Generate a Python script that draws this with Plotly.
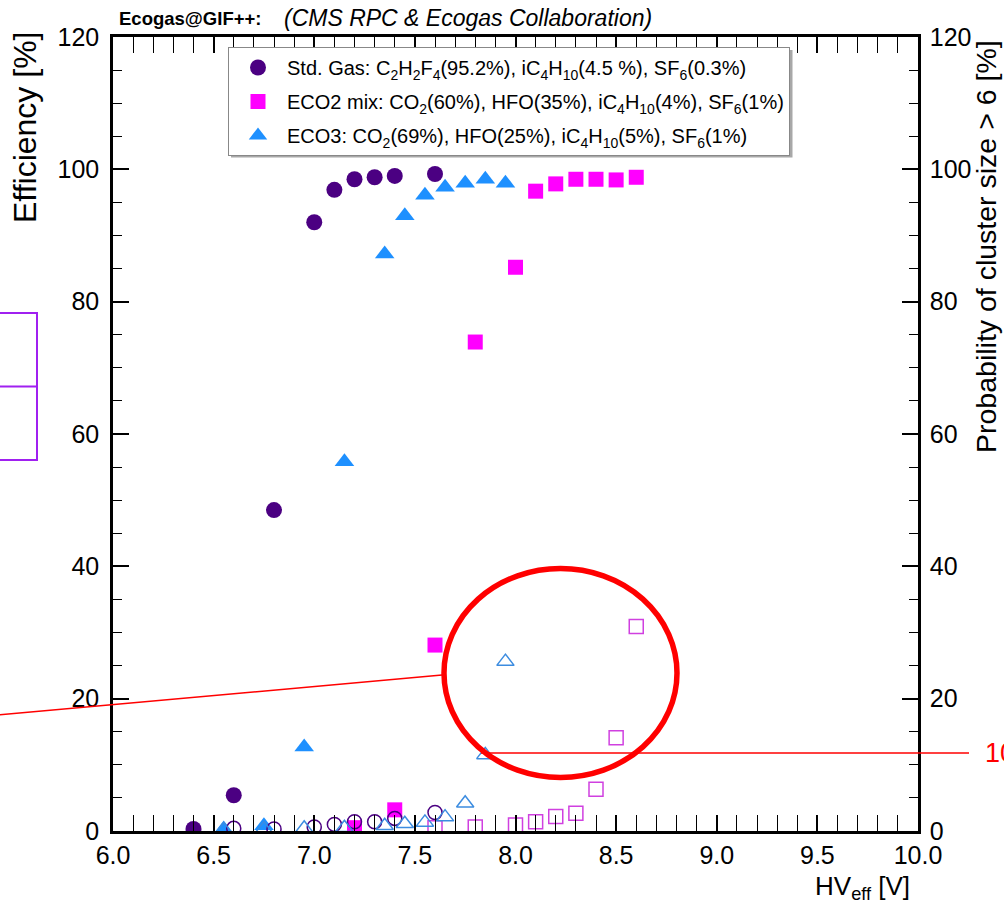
import plotly.graph_objects as go

# ---------------- data ----------------
std_hv = [6.4, 6.6, 6.8, 7.0, 7.1, 7.2, 7.3, 7.4, 7.6]
std_eff = [0.3, 5.4, 48.5, 92.0, 96.9, 98.5, 98.8, 99.0, 99.3]
std_cs_hv = [6.6, 6.8, 7.0, 7.1, 7.2, 7.3, 7.4, 7.6]
std_cs = [0.4, 0.3, 0.6, 1.0, 1.4, 1.4, 1.9, 2.8]

eco2_hv = [7.2, 7.4, 7.6, 7.8, 8.0, 8.1, 8.2, 8.3, 8.4, 8.5, 8.6]
eco2_eff = [0.5, 3.2, 28.1, 73.9, 85.2, 96.7, 97.8, 98.5, 98.5, 98.4, 98.8]
eco2_cs_hv = [7.6, 7.8, 8.0, 8.1, 8.2, 8.3, 8.4, 8.5, 8.6]
eco2_cs = [0.5, 0.6, 0.9, 1.4, 2.2, 2.7, 6.3, 14.1, 30.9]

eco3_hv = [6.55, 6.75, 6.95, 7.15, 7.35, 7.45, 7.55, 7.65, 7.75, 7.85, 7.95]
eco3_eff = [0.3, 0.8, 12.7, 55.8, 87.2, 93.0, 96.1, 97.3, 97.9, 98.5, 97.9]
eco3_cs_hv = [6.55, 6.75, 6.95, 7.15, 7.35, 7.45, 7.55, 7.65, 7.75, 7.85, 7.95]
eco3_cs = [0.2, 0.3, 0.4, 0.5, 0.8, 1.1, 1.3, 2.1, 4.2, 11.5, 25.6]

legend_names = [
    "Std. Gas: C<sub>2</sub>H<sub>2</sub>F<sub>4</sub>(95.2%), iC<sub>4</sub>H<sub>10</sub>(4.5 %), SF<sub>6</sub>(0.3%)",
    "ECO2 mix: CO<sub>2</sub>(60%), HFO(35%), iC<sub>4</sub>H<sub>10</sub>(4%), SF<sub>6</sub>(1%)",
    "ECO3: CO<sub>2</sub>(69%), HFO(25%), iC<sub>4</sub>H<sub>10</sub>(5%), SF<sub>6</sub>(1%)",
]

C_STD = "#4B0082"
C_ECO2 = "#FF00FF"
C_ECO3 = "#1E90FF"
FONT = "Liberation Sans, Arial, Helvetica, sans-serif"

W_FIG, H_FIG = 1004, 903
L, R, T, B = 113, 918, 37, 831


def pxx(x):
    return (x - L) / (R - L)


def pxy(y):
    return (B - y) / (B - T)


fig = go.Figure()

# filled markers: efficiency
fig.add_trace(go.Scatter(x=std_hv, y=std_eff, mode="markers", name=legend_names[0],
                         legendgroup="a",
                         marker=dict(symbol="circle", size=16, color=C_STD)))
fig.add_trace(go.Scatter(x=eco2_hv, y=eco2_eff, mode="markers", name=legend_names[1],
                         legendgroup="b",
                         marker=dict(symbol="square", size=15, color=C_ECO2)))
fig.add_trace(go.Scatter(x=eco3_hv, y=eco3_eff, mode="markers", name=legend_names[2],
                         legendgroup="c",
                         marker=dict(symbol="triangle-up", size=17, color=C_ECO3)))

# open markers: cluster size probability (right axis)
fig.add_trace(go.Scatter(x=std_cs_hv, y=std_cs, mode="markers", yaxis="y2", showlegend=False,
                         marker=dict(symbol="circle-open", size=14, color=C_STD,
                                     line=dict(width=1.5, color=C_STD))))
fig.add_trace(go.Scatter(x=eco2_cs_hv, y=eco2_cs, mode="markers", yaxis="y2", showlegend=False,
                         marker=dict(symbol="square-open", size=14, color="#D040E0",
                                     line=dict(width=1.5, color="#D040E0"))))
fig.add_trace(go.Scatter(x=eco3_cs_hv, y=eco3_cs, mode="markers", yaxis="y2", showlegend=False,
                         marker=dict(symbol="triangle-up-open", size=15, color="#3C8CE0",
                                     line=dict(width=1.5, color="#3C8CE0"))))

tickfont = dict(family=FONT, size=25, color="black")
minor_x = dict(tick0=6, dtick=0.1, ticks="inside", ticklen=9, tickwidth=1.2,
               tickcolor="black", showgrid=False)
minor_y = dict(tick0=0, dtick=5, ticks="inside", ticklen=9, tickwidth=1.2,
               tickcolor="black", showgrid=False)

fig.update_layout(
    width=W_FIG, height=H_FIG,
    margin=dict(l=L, r=W_FIG - R, t=T, b=H_FIG - B, pad=0),
    paper_bgcolor="white", plot_bgcolor="white",
    font=dict(family=FONT, color="black"),
    showlegend=True,
    legend=dict(x=pxx(228), y=pxy(47), xanchor="left", yanchor="top",
                bgcolor="white", bordercolor="#888888", borderwidth=1,
                font=dict(family=FONT, size=20, color="black"),
                tracegroupgap=5, itemwidth=48),
    xaxis=dict(range=[6, 10], tick0=6, dtick=0.5, tickformat=".1f",
               ticks="inside", ticklen=16, tickwidth=1.5, tickcolor="black",
               showline=True, linewidth=2.5, linecolor="black", mirror="allticks",
               showgrid=False, zeroline=False, tickfont=tickfont, minor=minor_x),
    yaxis=dict(range=[0, 120], tick0=0, dtick=20,
               ticks="inside", ticklen=16, tickwidth=1.5, tickcolor="black",
               showline=True, linewidth=2.5, linecolor="black", mirror=True,
               showgrid=False, zeroline=False, tickfont=tickfont, ticklabelstandoff=6,
               minor=minor_y),
    yaxis2=dict(range=[0, 120], tick0=0, dtick=20, overlaying="y", side="right",
                ticks="inside", ticklen=16, tickwidth=1.5, tickcolor="black",
                showline=True, linewidth=2.5, linecolor="black",
                showgrid=False, zeroline=False, tickfont=tickfont, ticklabelstandoff=4,
                minor=minor_y),
)

annotations = [
    dict(text="Efficiency [%]", x=pxx(25), y=pxy(128), xref="paper", yref="paper",
         textangle=-90, showarrow=False, xanchor="center", yanchor="middle",
         font=dict(family=FONT, size=32, color="black")),
    dict(text="Probability of cluster size > 6 [%]", x=pxx(986), y=pxy(246),
         xref="paper", yref="paper", textangle=-90, showarrow=False,
         xanchor="center", yanchor="middle", font=dict(family=FONT, size=28.5, color="black")),
    dict(text="HV<sub>eff</sub> [V]", x=pxx(912), y=pxy(887), xref="paper", yref="paper",
         showarrow=False, xanchor="right", yanchor="middle",
         font=dict(family=FONT, size=26, color="black")),
    dict(text="<b>Ecogas@GIF++:</b>", x=pxx(117), y=pxy(18), xref="paper", yref="paper",
         showarrow=False, xanchor="left", yanchor="middle",
         font=dict(family=FONT, size=18.5, color="black")),
    dict(text="<i>(CMS RPC & Ecogas Collaboration)</i>", x=pxx(282), y=pxy(18),
         xref="paper", yref="paper", showarrow=False, xanchor="left", yanchor="middle",
         font=dict(family=FONT, size=23, color="black")),
    dict(text="10%", x=pxx(983), y=pxy(753), xref="paper", yref="paper",
         showarrow=False, xanchor="left", yanchor="middle",
         font=dict(family=FONT, size=27, color="red")),
]
fig.update_layout(annotations=annotations)

shapes = [
    # legend drop shadow
    dict(type="rect", xref="paper", yref="paper",
         x0=pxx(231), x1=pxx(792.5), y0=pxy(157.5), y1=pxy(50),
         fillcolor="#a8a8a8", line=dict(width=0), layer="above"),
    # red ellipse highlighting the region
    dict(type="circle", xref="paper", yref="paper",
         x0=pxx(444), x1=pxx(677), y0=pxy(777.5), y1=pxy(568.5),
         line=dict(color="red", width=5.5), layer="above"),
    dict(type="line", xref="paper", yref="paper",
         x0=pxx(-2), y0=pxy(715), x1=pxx(442), y1=pxy(675),
         line=dict(color="red", width=1.5), layer="above"),
    dict(type="line", xref="paper", yref="paper",
         x0=pxx(481), y0=pxy(753), x1=pxx(969), y1=pxy(753),
         line=dict(color="red", width=1.5), layer="above"),
    # purple boxes at the left edge
    dict(type="rect", xref="paper", yref="paper",
         x0=pxx(-10), x1=pxx(37), y0=pxy(460), y1=pxy(313),
         line=dict(color="#A020F0", width=2), layer="above"),
    dict(type="line", xref="paper", yref="paper",
         x0=pxx(-10), x1=pxx(37), y0=pxy(386.5), y1=pxy(386.5),
         line=dict(color="#A020F0", width=2), layer="above"),
]
fig.update_layout(shapes=shapes)

fig.write_html("out.html")
